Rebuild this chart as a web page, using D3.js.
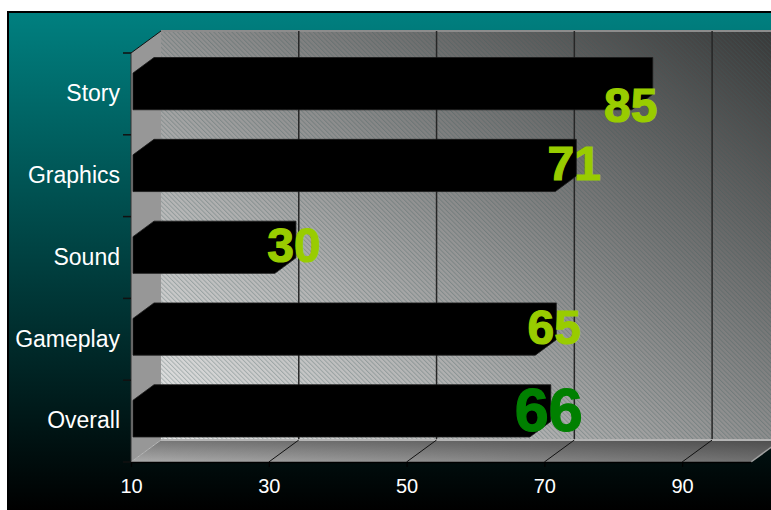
<!DOCTYPE html>
<html>
<head>
<meta charset="utf-8">
<script src="https://cdn.jsdelivr.net/npm/d3@7"></script>
<style>
  html, body { margin: 0; padding: 0; background: #fff; overflow: hidden; }
  text { font-family: "Liberation Sans", Arial, sans-serif; }
</style>
</head>
<body>
<div id="chart"></div>
<script>
// data
const categories = ["Story", "Graphics", "Sound", "Gameplay", "Overall"];
const barValues = [82.4, 71.3, 30.6, 68.4, 67.6];
const valueLabels = ["85", "71", "30", "65", "66"];
const xTicks = [10, 30, 50, 70, 90];
const xDomain = [10, 100];

const W = 771, H = 510;

const svg = d3.select('#chart')
  .append('svg')
  .attr('width', W)
  .attr('height', H);

const defs = svg.append('defs');

// outer background: teal fading to black
const bg = defs.append('linearGradient')
  .attr('id', 'bg')
  .attr('x1', 0).attr('y1', 0).attr('x2', 0).attr('y2', 1);
bg.append('stop').attr('offset', 0).attr('stop-color', '#008080');
bg.append('stop').attr('offset', 1).attr('stop-color', '#000000');

// back wall: light at bottom-left, dark at top-right
const wallGrad = defs.append('linearGradient')
  .attr('id', 'wall')
  .attr('gradientUnits', 'userSpaceOnUse')
  .attr('x1', 161).attr('y1', 440).attr('x2', 566).attr('y2', -127);
wallGrad.append('stop').attr('offset', 0).attr('stop-color', 'rgb(234,234,234)');
wallGrad.append('stop').attr('offset', 1).attr('stop-color', 'rgb(54,54,54)');

// fine diagonal hatch on the back wall
const hatch = defs.append('pattern')
  .attr('id', 'hatch')
  .attr('patternUnits', 'userSpaceOnUse')
  .attr('width', 3.2).attr('height', 3.2)
  .attr('patternTransform', 'rotate(-45)');
hatch.append('line')
  .attr('x1', 0.5).attr('y1', 0).attr('x2', 0.5).attr('y2', 3.2)
  .attr('stroke', '#3d5c5c')
  .attr('stroke-opacity', 0.32)
  .attr('stroke-width', 1);

// floor gradients
const floorGrad = defs.append('linearGradient')
  .attr('id', 'floor')
  .attr('x1', 0).attr('y1', 0).attr('x2', 0).attr('y2', 1);
floorGrad.append('stop').attr('offset', 0).attr('stop-color', '#767676');
floorGrad.append('stop').attr('offset', 1).attr('stop-color', '#ababab');
const floorShade = defs.append('linearGradient')
  .attr('id', 'floorShade')
  .attr('x1', 0).attr('y1', 0).attr('x2', 1).attr('y2', 0);
floorShade.append('stop').attr('offset', 0).attr('stop-color', '#000').attr('stop-opacity', 0);
floorShade.append('stop').attr('offset', 1).attr('stop-color', '#000').attr('stop-opacity', 0.35);

svg.append('rect')
  .attr('x', 7).attr('y', 11)
  .attr('width', W - 7).attr('height', H - 11)
  .attr('fill', 'url(#bg)');
svg.append('path')
  .attr('d', `M8,${H}V12H${W}`)
  .attr('fill', 'none')
  .attr('stroke', '#000')
  .attr('stroke-width', 2);

// scales
const x = d3.scaleLinear().domain(xDomain).range([131, 751]);
const y = d3.scaleBand().domain(categories).range([53, 462]);
const depth = { dx: 30, dy: -22 };
const plotTop = y.range()[0], plotBottom = y.range()[1];
const plotLeft = x(xDomain[0]), plotRight = x(xDomain[1]);

const chart = svg.append('g');

// back wall
chart.append('rect')
  .attr('x', plotLeft + depth.dx).attr('y', plotTop + depth.dy)
  .attr('width', plotRight - plotLeft).attr('height', plotBottom - plotTop)
  .attr('fill', 'url(#wall)');
chart.append('rect')
  .attr('x', plotLeft + depth.dx).attr('y', plotTop + depth.dy)
  .attr('width', plotRight - plotLeft).attr('height', plotBottom - plotTop)
  .attr('fill', 'url(#hatch)');
chart.append('line')
  .attr('x1', plotLeft + depth.dx).attr('x2', plotRight + depth.dx)
  .attr('y1', plotTop + depth.dy).attr('y2', plotTop + depth.dy)
  .attr('stroke', '#8c8c8c').attr('stroke-width', 2);

// back wall grid lines
chart.selectAll('.grid')
  .data(xTicks.slice(1))
  .join('line')
  .attr('class', 'grid')
  .attr('x1', d => x(d) + depth.dx).attr('x2', d => x(d) + depth.dx)
  .attr('y1', plotTop + depth.dy).attr('y2', plotBottom + depth.dy)
  .attr('stroke', '#262626').attr('stroke-width', 1.5);

// floor
const floorPts = [[plotLeft, plotBottom], [plotLeft + depth.dx, plotBottom + depth.dy],
                  [plotRight + depth.dx, plotBottom + depth.dy], [plotRight, plotBottom]];
chart.append('polygon').attr('points', floorPts.join(' ')).attr('fill', 'url(#floor)');
chart.append('polygon').attr('points', floorPts.join(' ')).attr('fill', 'url(#floorShade)');
chart.append('line')
  .attr('x1', plotLeft + depth.dx).attr('x2', plotRight + depth.dx)
  .attr('y1', plotBottom + depth.dy).attr('y2', plotBottom + depth.dy)
  .attr('stroke', '#b4b4b4').attr('stroke-width', 2);
chart.append('line')
  .attr('x1', plotRight).attr('y1', plotBottom)
  .attr('x2', plotRight + depth.dx).attr('y2', plotBottom + depth.dy)
  .attr('stroke', '#a0a0a0').attr('stroke-width', 1.5);
chart.selectAll('.floorline')
  .data(xTicks.slice(1))
  .join('line')
  .attr('class', 'floorline')
  .attr('x1', d => x(d)).attr('y1', plotBottom)
  .attr('x2', d => x(d) + depth.dx).attr('y2', plotBottom + depth.dy)
  .attr('stroke', '#111').attr('stroke-width', 1);

// left wall
chart.append('polygon')
  .attr('points', [[plotLeft, plotTop], [plotLeft + depth.dx, plotTop + depth.dy],
                   [plotLeft + depth.dx, plotBottom + depth.dy], [plotLeft, plotBottom]].join(' '))
  .attr('fill', '#979797');
chart.append('line')
  .attr('x1', plotLeft).attr('y1', plotTop)
  .attr('x2', plotLeft + depth.dx).attr('y2', plotTop + depth.dy)
  .attr('stroke', '#111').attr('stroke-width', 1);
chart.append('line')
  .attr('x1', plotLeft).attr('y1', plotBottom)
  .attr('x2', plotLeft + depth.dx).attr('y2', plotBottom + depth.dy)
  .attr('stroke', '#b8b8b8').attr('stroke-width', 1);
chart.append('line')
  .attr('x1', plotLeft).attr('x2', plotLeft)
  .attr('y1', plotTop).attr('y2', plotBottom)
  .attr('stroke', '#333').attr('stroke-width', 1);

// left ticks at band edges
chart.selectAll('.ytick')
  .data(categories.map(c => y(c)).concat([plotBottom]))
  .join('line')
  .attr('class', 'ytick')
  .attr('x1', plotLeft - 8).attr('x2', plotLeft)
  .attr('y1', d => d).attr('y2', d => d)
  .attr('stroke', '#111').attr('stroke-width', 1.5);

// bars (black 3D boxes)
const bw = y.bandwidth();
const barDx = 21, barDy = -15.5;
const bars = categories.map((c, i) => {
  const x0 = x(xDomain[0]) + 2, x1 = x(barValues[i]) + 2;
  const y0 = y(c) + bw * 0.245, y1 = y0 + bw * 0.449;
  return { c, i, x0, x1, y0, y1 };
});

chart.selectAll('.bar')
  .data(bars)
  .join('path')
  .attr('class', 'bar')
  .attr('d', b => `M${b.x0},${b.y0}L${b.x0 + barDx},${b.y0 + barDy}` +
                  `L${b.x1 + barDx},${b.y0 + barDy}L${b.x1 + barDx},${b.y1 + barDy}` +
                  `L${b.x1},${b.y1}L${b.x0},${b.y1}Z`)
  .attr('fill', '#000')
  .attr('stroke', '#1a1a1a')
  .attr('stroke-width', 0.8);

// value labels near the bar ends
chart.selectAll('.vlabel')
  .data(bars)
  .join('text')
  .attr('class', 'vlabel')
  .each(function (b) {
    const isOverall = b.c === 'Overall';
    const fs = isOverall ? 61 : 48;
    const col = isOverall ? '#008000' : '#99cc00';
    // first label sits lower and further left in the original
    const nx = b.i === 0 ? -20 : 0;
    const ny = b.i === 0 ? 23 : 0;
    const cx = b.x1 + barDx - 2 + nx;
    const cy = (b.y0 + b.y1) / 2 - 10 + ny;
    d3.select(this)
      .attr('x', cx)
      .attr('y', cy + fs * 0.36)
      .attr('text-anchor', 'middle')
      .attr('font-size', fs)
      .attr('font-weight', 'bold')
      .attr('fill', col)
      .attr('stroke', col)
      .attr('stroke-width', 1.2)
      .text(valueLabels[b.i]);
  });

// category labels
const yAxis = svg.append('g')
  .attr('transform', `translate(${plotLeft},0)`)
  .call(d3.axisLeft(y).tickSize(0).tickPadding(11));
yAxis.select('.domain').remove();
yAxis.selectAll('text')
  .attr('font-size', 23)
  .attr('font-family', '"Liberation Sans", Arial, sans-serif')
  .attr('fill', '#fff');

// bottom axis
const xAxis = svg.append('g')
  .attr('transform', `translate(0,${plotBottom})`)
  .call(d3.axisBottom(x).tickValues(xTicks).tickSize(5).tickSizeOuter(0).tickPadding(12));
xAxis.select('.domain').attr('stroke', '#000').attr('stroke-width', 1.5);
xAxis.selectAll('.tick line').attr('stroke', '#000').attr('stroke-width', 1.2);
xAxis.selectAll('text')
  .attr('font-size', 20)
  .attr('font-family', '"Liberation Sans", Arial, sans-serif')
  .attr('fill', '#fff');
</script>
</body>
</html>
